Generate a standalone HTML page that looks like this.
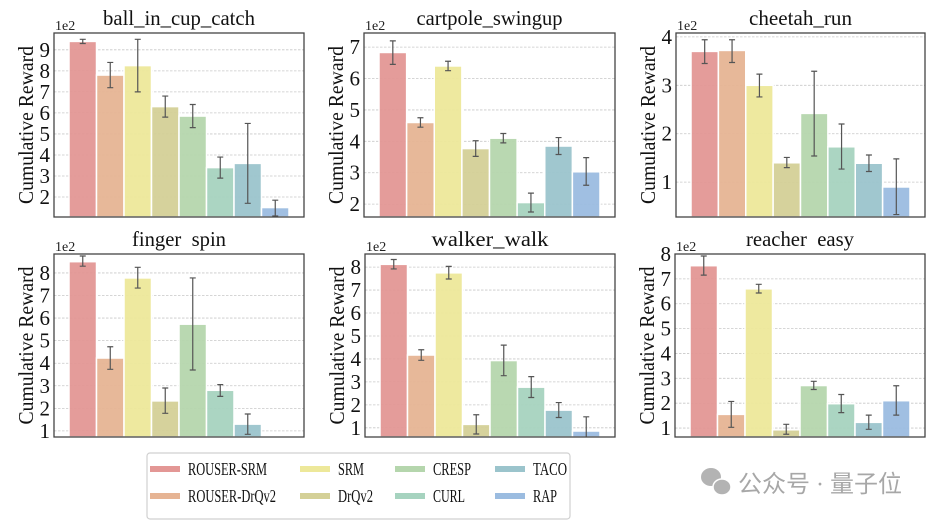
<!DOCTYPE html>
<html><head><meta charset="utf-8">
<style>
html,body{margin:0;padding:0;background:#fff;}
svg{display:block;}
svg text{font-family:"Liberation Serif","Times New Roman",serif;}
</style></head>
<body>
<svg id="chart" width="946" height="522" viewBox="0 0 946 522" xmlns="http://www.w3.org/2000/svg"></svg>
<script>
const methods = ["ROUSER-SRM","ROUSER-DrQv2","SRM","DrQv2","CRESP","CURL","TACO","RAP"];
const panelTitles = ["ball_in_cup_catch","cartpole_swingup","cheetah_run","finger  spin","walker_walk","reacher  easy"];
const meansBall = [9.4,7.8,8.25,6.3,5.85,3.4,3.6,1.5];
const lowBall = [9.3,7.2,7.0,5.8,5.3,2.9,1.7,1.1];
const highBall = [9.5,8.4,9.5,6.8,6.4,3.9,5.5,1.85];
const meansCart = [6.83,4.6,6.4,3.77,4.1,2.05,3.85,3.03];
const lowCart = [6.45,4.45,6.25,3.52,3.95,1.75,3.58,2.6];
const highCart = [7.2,4.75,6.55,4.02,4.25,2.35,4.12,3.48];
const meansCheetah = [3.7,3.72,3.0,1.4,2.42,1.73,1.39,0.9];
const lowCheetah = [3.45,3.47,2.76,1.3,1.54,1.27,1.22,0.33];
const highCheetah = [3.94,3.94,3.23,1.51,3.29,2.2,1.56,1.48];
const meansFinger = [8.5,4.23,7.78,2.33,5.73,2.8,1.3,null];
const lowFinger = [8.3,3.73,7.33,1.78,3.7,2.53,0.85,null];
const highFinger = [8.75,4.73,8.25,2.9,7.78,3.05,1.75,null];
const meansWalker = [8.12,4.17,7.75,1.15,3.93,2.77,1.77,0.86];
const lowWalker = [7.92,3.94,7.48,0.73,3.27,2.32,1.45,0.5];
const highWalker = [8.33,4.4,8.03,1.57,4.6,3.23,2.1,1.48];
const meansReacher = [7.53,1.55,6.6,0.93,2.71,1.98,1.23,2.1];
const lowReacher = [7.15,1.03,6.43,0.75,2.55,1.62,0.95,1.52];
const highReacher = [7.92,2.07,6.78,1.15,2.88,2.35,1.52,2.7];
const yMinArr = [1.05,1.59,0.28,0.73,0.6,0.64];
const yMaxArr = [9.8,7.45,4.08,8.84,8.57,8.0];
const tickFrom = [2,2,1,1,1,1];
const tickTo = [9,7,4,8,8,8];

const allMeans=[meansBall,meansCart,meansCheetah,meansFinger,meansWalker,meansReacher];
const allLow=[lowBall,lowCart,lowCheetah,lowFinger,lowWalker,lowReacher];
const allHigh=[highBall,highCart,highCheetah,highFinger,highWalker,highReacher];
const colors=["#e39795","#e6b494","#ede89a","#d4d097","#b5d6ad","#a6d3bf","#9bc4cc","#9bbce0"];
const legendTextW=[79,88,26,35,38,32,34,24];
const titleW=[152,146,103,94,117,108];
const frames=[[54,33,304,217],[364,33,615,217],[676,33,925,217],[54,254,304,437],[365,254,615,437],[675,254,925,437]];
const svg=document.getElementById('chart');
const NS="http://www.w3.org/2000/svg";
const SERIF='"Liberation Serif","Times New Roman",serif';
function mk(tag,attrs,parent){const e=document.createElementNS(NS,tag);for(const k in attrs)e.setAttribute(k,attrs[k]);if(tag==='text'&&!attrs['font-family'])e.setAttribute('font-family',SERIF);(parent||svg).appendChild(e);return e;}

for(let p=0;p<6;p++){
  const [x0,y0,x1,y1]=frames[p];
  const g=mk('g',{});
  
  
  const ymin=yMinArr[p],ymax=yMaxArr[p];
  const yS=v=>y1-(v-ymin)/(ymax-ymin)*(y1-y0);
  const step=(x1-x0-30)/8;
  const xS=i=>x0+15+i*step;
  const clip=mk('clipPath',{id:'c'+p},g);mk('rect',{x:x0,y:y0,width:x1-x0,height:y1-y0},clip);
  for(let t=tickFrom[p];t<=tickTo[p];t++){
    const y=yS(t);
    const gl=mk('line',{x1:x0,x2:x1,y1:y,y2:y,stroke:'#c8c8c8','stroke-width':0.8,'stroke-dasharray':'2.5,1.5'},g);
    
    
    const tl=mk('text',{x:x0-4,y:y+7,'text-anchor':'end','font-size':21,fill:'#111'},g);
    tl.textContent=t;
    
    
  }
  const bg=mk('g',{'clip-path':'url(#c'+p+')'},g);
  const m=allMeans[p],lo=allLow[p],hi=allHigh[p];
  for(let i=0;i<8;i++){
    if(m[i]==null)continue;
    const yt=yS(m[i]);
    const r=mk('rect',{x:xS(i),y:yt,width:step,height:Math.max(0,y1-yt),fill:colors[i],stroke:'#fff','stroke-width':1.5,'fill-opacity':0.95},bg);
    
    
    const cx=xS(i)+step/2,ya=yS(hi[i]),yb=yS(lo[i]);
    const eb=mk('path',{d:`M${cx},${ya}V${yb}M${cx-3},${ya}H${cx+3}M${cx-3},${yb}H${cx+3}`,stroke:'#555','stroke-width':1.2,fill:'none'},bg);
    
    
  }
  const fr=mk('rect',{x:x0,y:y0,width:x1-x0,height:y1-y0,fill:'none',stroke:'#444','stroke-width':1.3},g);
  
  
  const ti=mk('text',{x:(x0+x1)/2,y:y0-8,'text-anchor':'middle','font-size':21,fill:'#111',textLength:titleW[p],lengthAdjust:'spacingAndGlyphs'},g);
  ti.setAttribute('style','white-space:pre');
  ti.textContent=panelTitles[p];
  
  
  const ex=mk('text',{x:x0+1,y:y0-3,'font-size':14,fill:'#222'},g);
  ex.textContent='1e2';
  
  
  const yl=mk('text',{x:0,y:0,'text-anchor':'middle','font-size':21,fill:'#111',textLength:158,lengthAdjust:'spacingAndGlyphs',transform:`translate(${x0-21},${(y0+y1)/2}) rotate(-90)`},g);
  yl.textContent='Cumulative Reward';
  
  
}

// legend
const lg=mk('g',{});


mk('rect',{x:147,y:453,width:423,height:66,rx:3,fill:'#fff',stroke:'#d0d0d0','stroke-width':1.2},lg);
const colX=[150,300,395,495];
for(let i=0;i<8;i++){
  const c=Math.floor(i/2),r=i%2;
  const y=469+r*27;
  const e=mk('g',{},lg);
  
  
  mk('rect',{x:colX[c],y:y-3,width:30,height:6,fill:colors[i]},e);
  const t=mk('text',{x:colX[c]+38,y:y+6,'font-size':18,fill:'#111',textLength:legendTextW[i],lengthAdjust:'spacingAndGlyphs'},e);
  t.textContent=methods[i];
}
// watermark
const wm=mk('g',{opacity:0.75});


mk('ellipse',{cx:711,cy:477,rx:10,ry:9,fill:'#9a9a9a'},wm);
mk('ellipse',{cx:722,cy:487,rx:9,ry:8,fill:'#9a9a9a',stroke:'#fff','stroke-width':1.5},wm);
const wt=mk('text',{x:738,y:492,'font-size':24,fill:'#8a8a8a','font-family':'"Noto Sans CJK SC",sans-serif'},wm);
wt.textContent='公众号 · 量子位';
</script>
</body></html>
